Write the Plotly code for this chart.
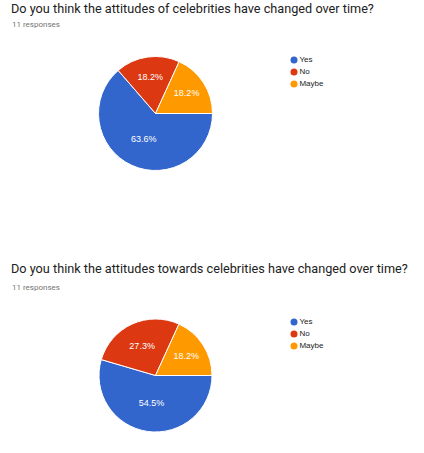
import plotly.graph_objects as go

labels = ['Yes', 'No', 'Maybe']
colors = ['#3366CC', '#DC3912', '#FF9900']

q1_title = 'Do you think the attitudes of celebrities have changed over time?'
q1_counts = [7, 2, 2]
q2_title = 'Do you think the attitudes towards celebrities have changed over time?'
q2_counts = [6, 3, 2]
responses = '11 responses'

W, H = 424, 453


def px_x(v):
    return v / W


def px_y(v):
    return 1 - v / H


fig = go.Figure()

pie_style = dict(
    labels=labels,
    sort=False,
    direction='clockwise',
    rotation=90,
    marker=dict(colors=colors, line=dict(color='white', width=1)),
    textinfo='percent',
    texttemplate='%{percent:.1%}',
    textposition='inside',
    insidetextorientation='horizontal',
    textfont=dict(color='white', size=9, family='Liberation Sans'),
    showlegend=False,
    hoverinfo='label+value+percent',
)

# pie 1
fig.add_trace(go.Pie(values=q1_counts,
                     domain=dict(x=[px_x(98.5), px_x(212.5)], y=[px_y(170.5), px_y(56.5)]),
                     **pie_style))
# pie 2
fig.add_trace(go.Pie(values=q2_counts,
                     domain=dict(x=[px_x(99), px_x(212)], y=[px_y(432), px_y(319)]),
                     **pie_style))

# legends as round markers on hidden axes
for ax in ['', '2']:
    fig.add_trace(go.Scatter(
        x=[0] * len(labels), y=labels,
        mode='markers+text',
        text=labels,
        textposition='middle right',
        marker=dict(color=colors, size=7),
        textfont=dict(size=8, color='#222222', family='Liberation Sans'),
        xaxis='x' + ax, yaxis='y' + ax,
        showlegend=False, hoverinfo='skip', cliponaxis=False,
    ))

axis_off = dict(visible=False, fixedrange=True)
title_font = dict(size=12.7, color='#212121', family='Roboto')
sub_font = dict(size=8, color='#757575', family='Roboto')
fig.update_layout(
    width=W, height=H,
    margin=dict(l=0, r=0, t=0, b=0),
    paper_bgcolor='white', plot_bgcolor='white',
    xaxis=dict(domain=[px_x(294), px_x(360)], range=[0, 10], **axis_off),
    yaxis=dict(domain=[px_y(90), px_y(54)], range=[2.5, -0.5], type='category', **axis_off),
    xaxis2=dict(domain=[px_x(294), px_x(360)], range=[0, 10], **axis_off),
    yaxis2=dict(domain=[px_y(352), px_y(316)], range=[2.5, -0.5], type='category', **axis_off),
    annotations=[
        dict(text=q1_title, x=px_x(9), y=px_y(9), xref='paper', yref='paper',
             xanchor='left', yanchor='middle', showarrow=False, font=title_font),
        dict(text=responses, x=px_x(10), y=px_y(24.5), xref='paper', yref='paper',
             xanchor='left', yanchor='middle', showarrow=False, font=sub_font),
        dict(text=q2_title, x=px_x(9), y=px_y(268.5), xref='paper', yref='paper',
             xanchor='left', yanchor='middle', showarrow=False, font=title_font),
        dict(text=responses, x=px_x(10), y=px_y(287), xref='paper', yref='paper',
             xanchor='left', yanchor='middle', showarrow=False, font=sub_font),
    ],
)

# drop the default page margin so the figure sits at the window's corner
fig.write_html('out.html', config={'displayModeBar': False},
               post_script="document.body.style.margin='0px';")
